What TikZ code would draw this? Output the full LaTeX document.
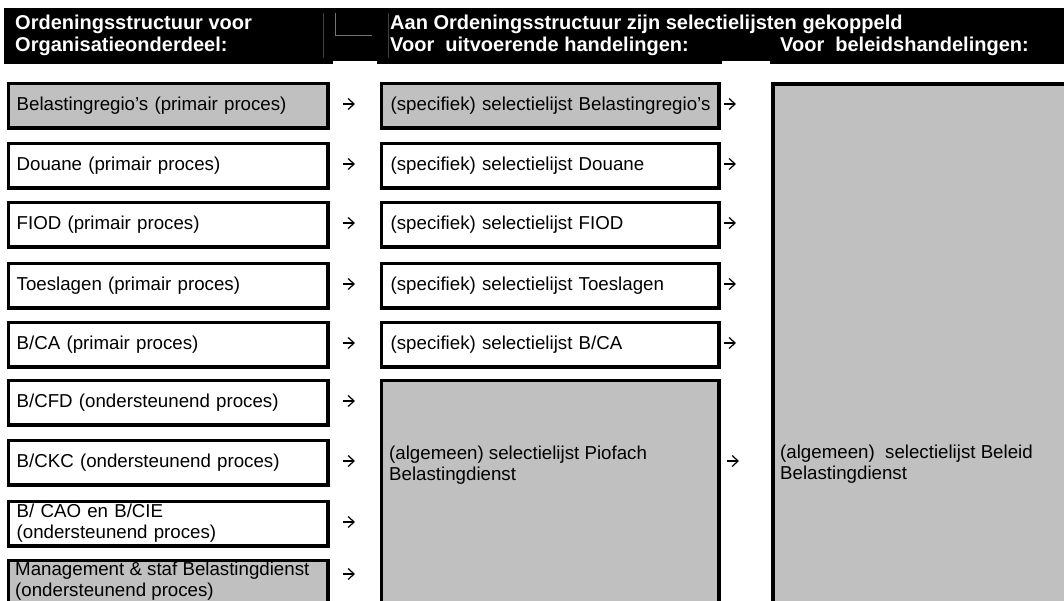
\documentclass[tikz,border=0pt]{standalone}
\usepackage{fontspec}
\setmainfont{Liberation Sans}
\usetikzlibrary{arrows.meta,calc}
\definecolor{boxgray}{RGB}{192,192,192}
\begin{document}
\begin{tikzpicture}[x=1pt,y=-1pt,
  bfont/.style={font=\fontsize{18.7}{21}\selectfont},
  hfont/.style={font=\bfseries\fontsize{20}{21.5}\selectfont},
  lbox/.style={draw=black, line width=3.3pt, anchor=north west, inner xsep=8.35pt, inner ysep=0pt,
    text width=303pt, minimum height=44.7pt, align=left, bfont,
    execute at begin node={\hyphenpenalty=10000\exhyphenpenalty=10000}},
  mbox/.style={lbox, inner xsep=9.35pt, text width=319pt},
  gbox/.style={fill=boxgray},
  wbox/.style={fill=white},
  btext/.style={bfont, anchor=north west, inner sep=0pt, align=left},
  htext/.style={text=white, hfont, anchor=base west, inner sep=0pt},
  arr/.style={line width=1.25pt, -{Straight Barb[length=6pt,width=11pt]}},
  hline/.style={line width=0.7pt}
]
\useasboundingbox (0,0) rectangle (1064,601);
\clip (0,0) rectangle (1064,601);

% header band
\fill[black] (4,8) rectangle (1064,64);
\fill[white] (333,61.5) rectangle (377,64.5);
\fill[white] (722,61.5) rectangle (770,64.5);
\draw[hline, black!75] (323.3,13) -- (323.3,58);
\draw[hline, black!55] (335,13) -- (335,35) -- (372,35);
\draw[hline, black!75] (388,13) -- (388,58);
\node[htext] (h1a) at (15,30) {Ordeningsstructuur voor};
\node[htext] (h1b) at (15,51.5) {Organisatieonderdeel:};
\node[htext] (h2a) at (390,30) {Aan Ordeningsstructuur zijn selectielijsten gekoppeld};
\node[htext] (h2b) at (390,51.5) {Voor~ uitvoerende handelingen:};
\node[htext] (h3) at (780,51.5) {Voor~ beleidshandelingen:};

% right big box
\node[draw=black, line width=4pt, fill=boxgray, anchor=north west, minimum width=400pt,
  minimum height=600pt, inner sep=0pt] (R) at (771,82) {};
\node[btext] (Rt) at (780,444.4) {(algemeen)~ selectielijst Beleid\\Belastingdienst};

% left column
\node[lbox, gbox] (L1) at (6.65,81.65) {Belastingregio’s (primair proces)};
\node[lbox, wbox] (L2) at (6.65,141.65) {Douane (primair proces)};
\node[lbox, wbox] (L3) at (6.65,200.65) {FIOD (primair proces)};
\node[lbox, wbox] (L4) at (6.65,261.65) {Toeslagen (primair proces)};
\node[lbox, wbox] (L5) at (6.65,320.65) {B/CA (primair proces)};
\node[lbox, wbox] (L6) at (6.65,378.65) {B/CFD (ondersteunend proces)};
\node[lbox, wbox] (L7) at (6.65,438.65) {B/CKC (ondersteunend proces)};
\node[lbox, wbox] (L8) at (6.65,499.65) {B/ CAO en B/CIE\\(ondersteunend proces)};
\node[lbox, gbox, minimum height=60pt] (L9) at (6.65,558.65) {};
\node[btext] (L9t) at (15,561.6) {Management \& staf Belastingdienst\\(ondersteunend proces)};

% middle column
\node[mbox, gbox] (M1) at (379.65,81.65) {\mbox{(specifiek) selectielijst Belastingregio’s}};
\node[mbox, wbox] (M2) at (379.65,141.65) {(specifiek) selectielijst Douane};
\node[mbox, wbox] (M3) at (379.65,200.65) {(specifiek) selectielijst FIOD};
\node[mbox, wbox] (M4) at (379.65,261.65) {(specifiek) selectielijst Toeslagen};
\node[mbox, wbox] (M5) at (379.65,320.65) {(specifiek) selectielijst B/CA};
\node[mbox, gbox, minimum height=300pt] (M6) at (379.65,378.65) {};
\node[btext] (M6t) at (389,445.4) {(algemeen) selectielijst Piofach\\Belastingdienst};

% arrows, left column
\foreach \n/\yy in {1/104,2/164,3/223,4/284,5/343,6/401,7/461,8/522,9/574}{
  \coordinate (la\n) at (343,\yy);
  \coordinate (lb\n) at (355,\yy);
  \draw[arr] (la\n) -- (lb\n);
}
% arrows, middle column
\foreach \n/\yy in {1/104,2/164,3/223,4/284,5/343}{
  \coordinate (ma\n) at (724,\yy);
  \coordinate (mb\n) at (736,\yy);
  \draw[arr] (ma\n) -- (mb\n);
}
\coordinate (ma6) at (727,461);
\coordinate (mb6) at (739,461);
\draw[arr] (ma6) -- (mb6);
\end{tikzpicture}
\end{document}
